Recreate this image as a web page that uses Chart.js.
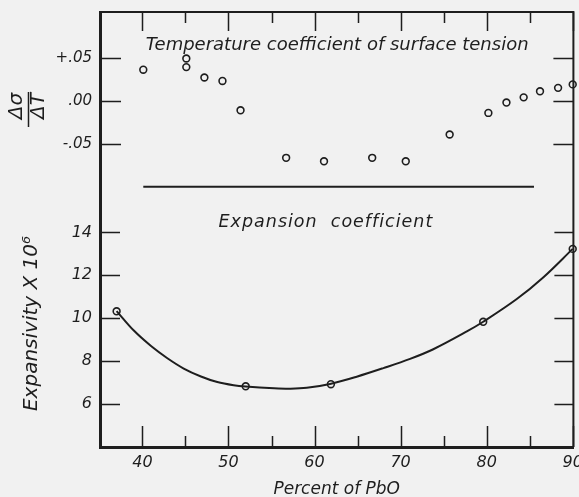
<!DOCTYPE html>
<html><head><meta charset="utf-8">
<script src="https://cdn.jsdelivr.net/npm/chart.js@4.4.0/dist/chart.umd.min.js"></script>
<style>
html,body{margin:0;padding:0;background:#f1f1f1;}
#wrap{width:579px;height:497px;position:relative;}
canvas{display:block;}
</style></head><body>
<div id="wrap"><canvas id="c" width="579" height="497"></canvas></div>
<script>
// ---- data ----
const xTickValues = [40, 50, 60, 70, 80, 90];
const xMinorValues = [45, 55, 65, 75, 85];
const surfTickValues = [-0.05, 0, 0.05];
const surfTickLabels = ['-.05', '.00', '+.05'];
const expTickValues = [6, 8, 10, 12, 14];
const expTickLabels = ['6', '8', '10', '12', '14'];

// temperature coefficient of surface tension (upper panel)
const surfPercent = [40.1, 45.1, 45.1, 47.2, 49.3, 51.4, 56.7, 61.1, 66.7, 70.6, 75.7, 80.2, 82.3, 84.3, 86.2, 88.3, 90.0];
const surfCoef    = [0.036, 0.049, 0.039, 0.027, 0.023, -0.011, -0.066, -0.070, -0.066, -0.070, -0.039, -0.014, -0.002, 0.004, 0.011, 0.015, 0.019];

// expansion coefficient measured points (lower panel)
const expPercent = [37.0, 52.0, 61.9, 79.6, 90.0];
const expValue   = [10.32, 6.82, 6.92, 9.83, 13.23];

// drawn smooth curve through expansion coefficient
const curvePercent = [37.0, 39.0, 41.0, 42.9, 44.8, 46.8, 48.7, 50.6, 52.0, 55.3, 57.2, 59.1, 61.8, 64.9, 68.0, 71.1, 73.8, 77.7, 79.6, 83.5, 86.6, 90.0];
const curveValue   = [10.33, 9.42, 8.70, 8.13, 7.65, 7.28, 7.02, 6.87, 6.81, 6.73, 6.71, 6.75, 6.93, 7.27, 7.67, 8.10, 8.55, 9.38, 9.83, 10.89, 11.91, 13.23];

// horizontal divider between the two panels
const dividerPercent = [40.1, 85.5];
const dividerLevel   = [-0.0994, -0.0994];

// ---- styling ----
const ink = '#1e1e1e';
const bg = '#f1f1f1';
const FAM = "'DejaVu Sans', sans-serif";

const pts = (xs, ys) => xs.map((x, i) => ({x: x, y: ys[i]}));
const noPad = s => { s.paddingLeft = 0; s.paddingRight = 0; s.paddingTop = 0; s.paddingBottom = 0; };

const framePlugin = {
  id: 'frame',
  afterDraw(chart) {
    const {ctx, chartArea: a, scales} = chart;
    const X = scales.x, S = scales.yS, E = scales.yE;
    ctx.save();
    ctx.strokeStyle = ink;
    ctx.fillStyle = ink;
    // top & right border
    ctx.lineWidth = 2;
    ctx.beginPath();
    ctx.moveTo(a.left, a.top);
    ctx.lineTo(a.right, a.top);
    ctx.lineTo(a.right, a.bottom);
    ctx.stroke();
    // inward tick marks
    ctx.lineWidth = 1.5;
    ctx.beginPath();
    xTickValues.forEach(v => {
      const p = Math.round(X.getPixelForValue(v)) + 0.5;
      ctx.moveTo(p, a.bottom); ctx.lineTo(p, a.bottom - 21);
      ctx.moveTo(p, a.top); ctx.lineTo(p, a.top + 19);
    });
    xMinorValues.forEach(v => {
      const p = Math.round(X.getPixelForValue(v)) + 0.5;
      ctx.moveTo(p, a.bottom); ctx.lineTo(p, a.bottom - 11);
      ctx.moveTo(p, a.top); ctx.lineTo(p, a.top + 11);
    });
    surfTickValues.forEach(v => {
      const p = Math.round(S.getPixelForValue(v)) + 0.5;
      ctx.moveTo(a.left, p); ctx.lineTo(a.left + 21, p);
      ctx.moveTo(a.right, p); ctx.lineTo(a.right - 20, p);
    });
    expTickValues.forEach(v => {
      const p = Math.round(E.getPixelForValue(v)) + 0.5;
      ctx.moveTo(a.left, p); ctx.lineTo(a.left + 20, p);
      ctx.moveTo(a.right, p); ctx.lineTo(a.right - 19, p);
    });
    ctx.stroke();
    // fraction bar of the upper axis title
    const cy = (S.top + S.bottom) / 2 + 3;
    ctx.lineWidth = 1.5;
    ctx.beginPath();
    ctx.moveTo(S.left + 28.5, cy - 17);
    ctx.lineTo(S.left + 28.5, cy + 18);
    ctx.stroke();
    // panel labels
    ctx.textAlign = 'center';
    ctx.textBaseline = 'middle';
    ctx.font = 'italic 18px ' + FAM;
    ctx.fillText('Temperature coefficient of surface tension', X.getPixelForValue(62.63), S.getPixelForValue(0.0646));
    ctx.font = 'italic 17.5px ' + FAM;
    ctx.letterSpacing = '1px';
    ctx.fillText('Expansion  coefficient', X.getPixelForValue(61.32), E.getPixelForValue(14.44));
    ctx.restore();
  }
};

new Chart(document.getElementById('c'), {
  type: 'scatter',
  data: {
    datasets: [
      {
        yAxisID: 'yS',
        data: pts(dividerPercent, dividerLevel),
        showLine: true, borderColor: ink, borderWidth: 2,
        pointRadius: 0
      },
      {
        yAxisID: 'yE',
        data: pts(curvePercent, curveValue),
        showLine: true, borderColor: ink, borderWidth: 2,
        tension: 0.35,
        pointRadius: 0
      },
      {
        yAxisID: 'yS',
        data: pts(surfPercent, surfCoef),
        pointRadius: 3.4, pointBorderWidth: 1.6,
        pointBorderColor: ink, pointBackgroundColor: bg,
        clip: false
      },
      {
        yAxisID: 'yE',
        data: pts(expPercent, expValue),
        pointRadius: 3.4, pointBorderWidth: 1.6,
        pointBorderColor: ink, pointBackgroundColor: bg,
        clip: false
      }
    ]
  },
  options: {
    responsive: false,
    animation: false,
    events: [],
    layout: {padding: {top: 12, right: 5, left: 0, bottom: 0}},
    plugins: {legend: {display: false}, tooltip: {enabled: false}},
    scales: {
      x: {
        type: 'linear', position: 'bottom',
        min: 35.07, max: 90.08,
        afterBuildTicks: s => { s.ticks = xTickValues.map(v => ({value: v})); },
        grid: {display: false, drawTicks: false},
        border: {display: true, width: 3, color: ink},
        ticks: {color: ink, padding: 6, maxRotation: 0, font: {family: FAM, size: 16, style: 'italic'}},
        title: {display: true, text: 'Percent of PbO', color: ink,
                padding: {top: 0, bottom: 0},
                font: {family: FAM, size: 17, style: 'italic', lineHeight: 0.9}},
        afterFit: s => { s.height = 50; noPad(s); }
      },
      yE: {
        type: 'linear', position: 'left',
        stack: 'panels', stackWeight: 247,
        min: 3.99, max: 15.51,
        afterBuildTicks: s => { s.ticks = expTickValues.map(v => ({value: v})); },
        grid: {display: false, drawTicks: false},
        border: {display: true, width: 3, color: ink},
        ticks: {color: ink, padding: 8,
                callback: (v) => expTickLabels[expTickValues.indexOf(v)],
                font: {family: FAM, size: 16, style: 'italic'}},
        title: {display: true, text: 'Expansivity X 10\u2076', color: ink,
                padding: {top: 20, bottom: 0},
                font: {family: FAM, size: 20, style: 'italic', lineHeight: 1.2}},
        afterFit: s => { s.width = 100; noPad(s); }
      },
      yS: {
        type: 'linear', position: 'left',
        stack: 'panels', stackWeight: 188,
        min: -0.1148, max: 0.1028,
        afterBuildTicks: s => { s.ticks = surfTickValues.map(v => ({value: v})); },
        grid: {display: false, drawTicks: false},
        border: {display: true, width: 3, color: ink},
        ticks: {color: ink, padding: 8,
                callback: (v) => surfTickLabels[surfTickValues.indexOf(v)],
                font: {family: FAM, size: 15, style: 'italic'}},
        title: {display: true, text: ['\u0394\u03c3', '\u0394T'], color: ink,
                padding: {top: 6.25, bottom: 0},
                font: {family: FAM, size: 20, style: 'italic', lineHeight: 1.07}},
        afterFit: s => { s.width = 100; noPad(s); }
      }
    }
  },
  plugins: [framePlugin]
});
</script>
</body></html>
